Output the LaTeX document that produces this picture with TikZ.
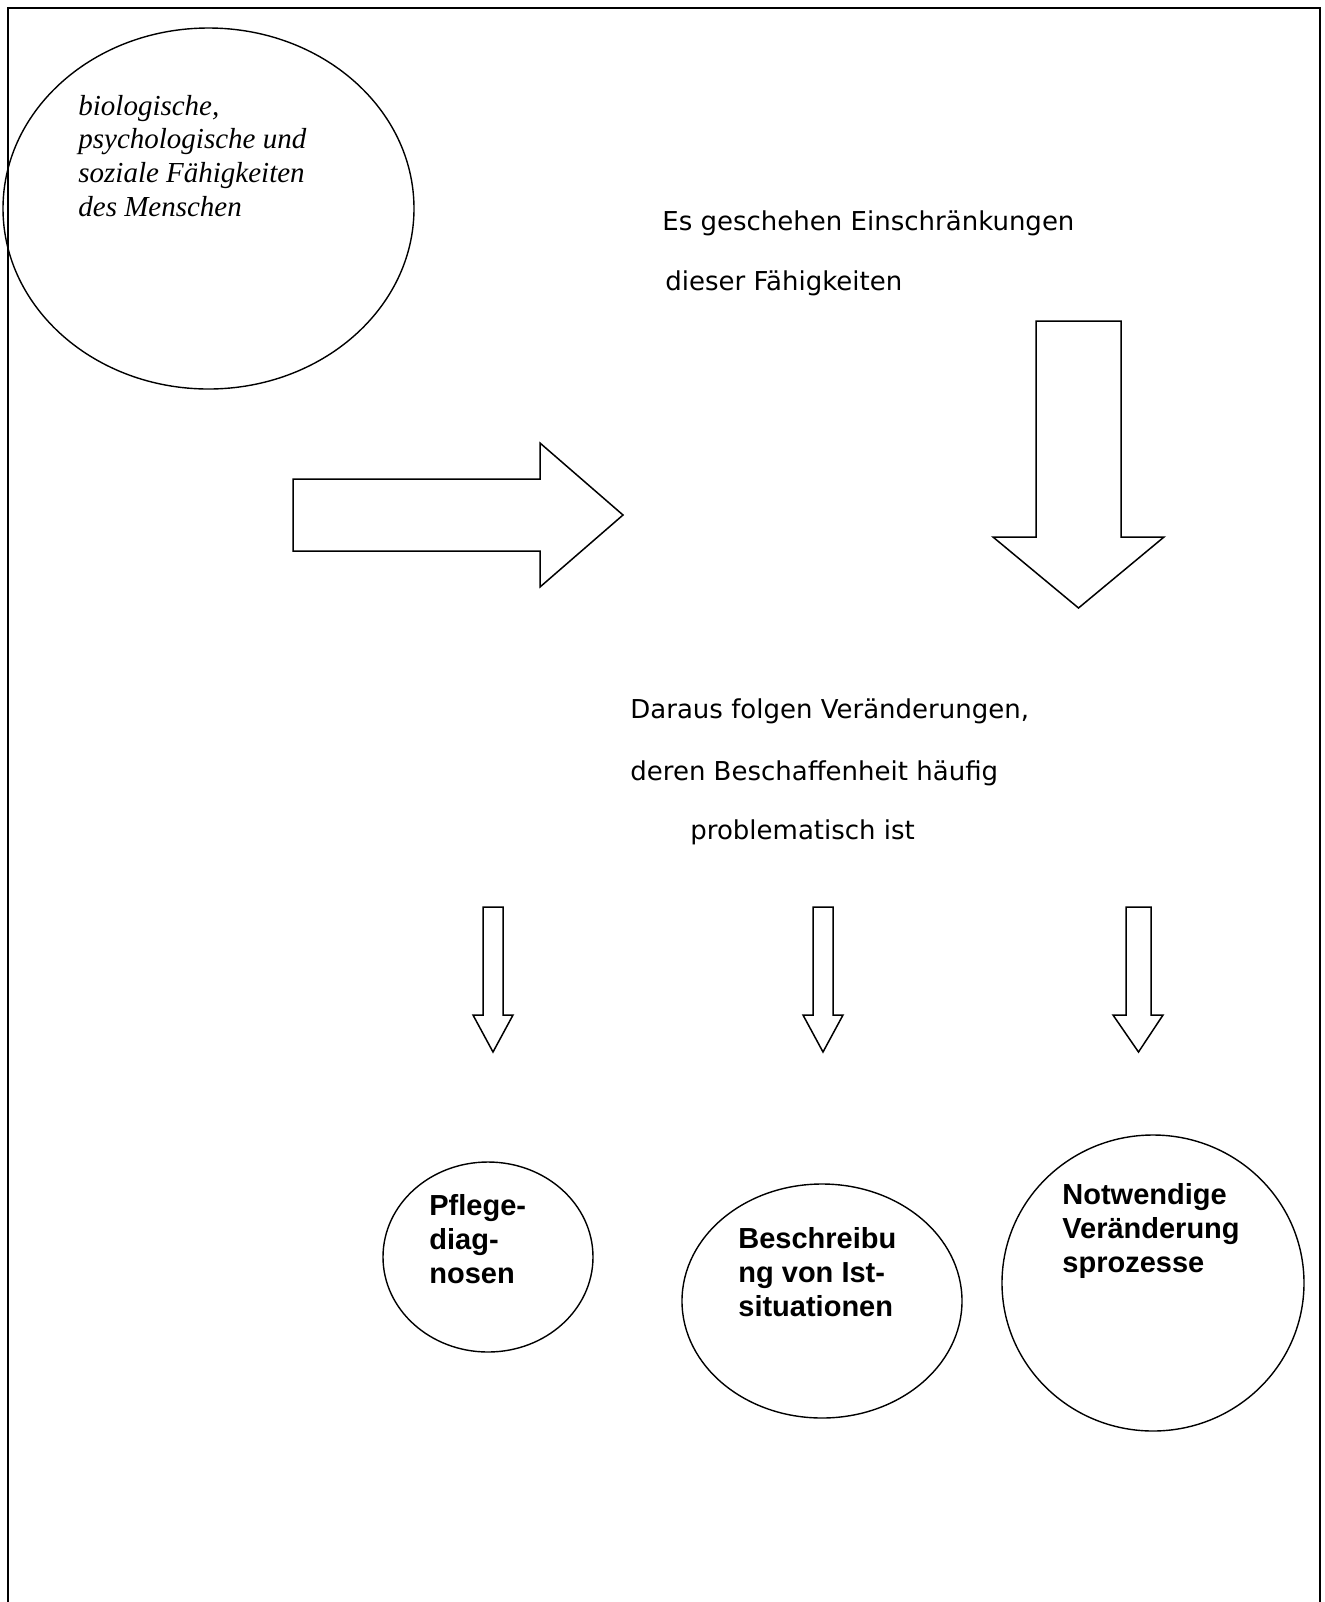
\documentclass[tikz,border=0pt]{standalone}
\usepackage{fontspec}
\setmainfont{Liberation Serif}
\newfontfamily\comicfont{DejaVu Sans}
\newfontfamily\boldsans{Liberation Sans}
\usetikzlibrary{shapes.geometric}
\begin{document}
\begin{tikzpicture}[x=0.5pt,y=-0.5pt,
  outline/.style={draw=black, line width=0.75pt, line join=miter, fill=white},
  ringnode/.style={ellipse, draw=black, line width=0.7pt, inner sep=0pt},
  italictext/.style={anchor=base west, inner sep=0pt, align=left,
    font=\fontsize{14.5pt}{16.8pt}\selectfont\itshape},
  comictext/.style={anchor=base west, inner sep=0pt,
    font=\comicfont\fontsize{13pt}{15pt}\selectfont},
  boldtext/.style={anchor=base west, inner sep=0pt, align=left,
    font=\boldsans\bfseries\fontsize{14.5pt}{16.8pt}\selectfont}]
\useasboundingbox (0,0) rectangle (1325,1602);
% frame
\draw[line width=1pt, line join=miter] (8,1602) -- (8,8) -- (1320,8) -- (1320,1602);

% top-left ellipse
\node[ringnode, minimum width=205.5pt, minimum height=180.5pt] (bio) at (208.5,208.5) {};
% base anchor of a multi-line node = baseline of its last line
\node[italictext] (biotext) at (78,216) {biologische,\\psychologische und\\soziale Fähigkeiten\\des Menschen};

% comic texts
\node[comictext] (t1) at (662,230) {Es geschehen Einschränkungen};
\node[comictext] (t2) at (665,290) {dieser Fähigkeiten};
\node[comictext] (t3) at (630,718) {Daraus folgen Veränderungen,};
\node[comictext] (t4) at (630,780) {deren Beschaffenheit häufig};
\node[comictext] (t5) at (690,839) {problematisch ist};

% big block arrows
\draw[outline] (293,479) -- (540,479) -- (540,443) -- (623,515) -- (540,587) -- (540,551) -- (293,551) -- cycle;
\draw[outline] (1036,321) -- (1121,321) -- (1121,537) -- (1164,537) -- (1078.5,608) -- (993,537) -- (1036,537) -- cycle;

% small block arrows
\draw[outline] (483,907) -- (503,907) -- (503,1015) -- (513,1015) -- (493,1052) -- (473,1015) -- (483,1015) -- cycle;
\draw[outline] (813,907) -- (833,907) -- (833,1015) -- (843,1015) -- (823,1052) -- (803,1015) -- (813,1015) -- cycle;
\draw[outline] (1126,907) -- (1151,907) -- (1151,1015) -- (1163,1015) -- (1138.5,1052) -- (1113,1015) -- (1126,1015) -- cycle;

% circles
\node[ringnode, minimum width=105pt, minimum height=95pt] (c1) at (488,1257) {};
\node[ringnode, minimum width=140pt, minimum height=117pt] (c2) at (822,1301) {};
\node[ringnode, minimum width=151pt, minimum height=148pt] (c3) at (1153,1283) {};

\node[boldtext] (c1text) at (429,1283) {Pflege-\\diag-\\nosen};
\node[boldtext] (c2text) at (738,1316) {Beschreibu\\ng von Ist-\\situationen};
\node[boldtext] (c3text) at (1062,1272) {Notwendige\\Veränderung\\sprozesse};
\end{tikzpicture}
\end{document}
